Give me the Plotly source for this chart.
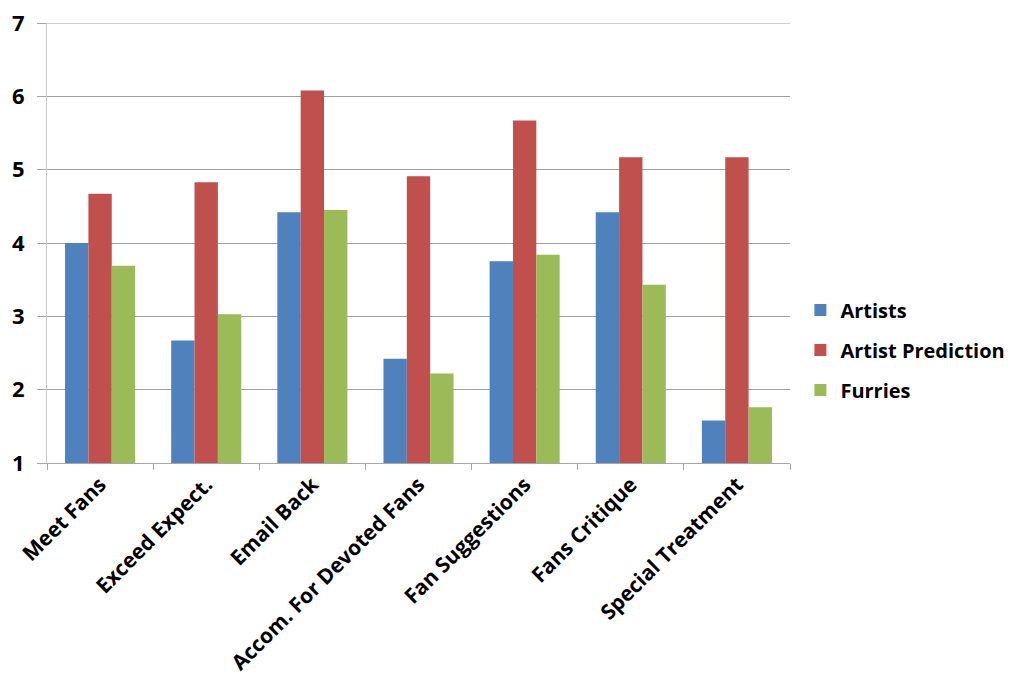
import plotly.graph_objects as go

categories = ["Meet Fans", "Exceed Expect.", "Email Back", "Accom. For Devoted Fans",
              "Fan Suggestions", "Fans Critique", "Special Treatment"]
artists = [4.00, 2.67, 4.42, 2.42, 3.75, 4.42, 1.58]
artist_prediction = [4.67, 4.83, 6.08, 4.91, 5.67, 5.17, 5.17]
furries = [3.69, 3.03, 4.45, 2.22, 3.84, 3.43, 1.76]
y_ticks = [1, 2, 3, 4, 5, 6, 7]

series = [
    ("Artists", artists, "#4F81BD"),
    ("Artist Prediction", artist_prediction, "#C0504D"),
    ("Furries", furries, "#9BBB59"),
]

fig = go.Figure()
for name, vals, color in series:
    fig.add_trace(go.Bar(x=categories, y=vals, name=name, marker_color=color,
                         marker_line_width=0, legendgroup=name))

font_family = "Open Sans, DejaVu Sans, sans-serif"
fig.update_layout(
    width=1024, height=700,
    margin=dict(l=39, r=242, t=15, b=245),
    paper_bgcolor="white", plot_bgcolor="white",
    barmode="group", bargap=0.34, bargroupgap=0,
    font=dict(family=font_family, color="black"),
    legend=dict(x=1.014, y=0.257, xanchor="left", yanchor="middle",
                font=dict(size=20, family=font_family, weight="bold"),
                tracegroupgap=11, itemwidth=30),
    showlegend=True,
)
# top gridline at the maximum of the y range
fig.add_shape(type="line", xref="paper", yref="y", x0=0, x1=1,
              y0=y_ticks[-1], y1=y_ticks[-1],
              line=dict(color="#a0a0a0", width=1), layer="below")
fig.update_xaxes(
    tickangle=-45, tickson="boundaries", ticks="outside", ticklen=6,
    tickcolor="#a6a6a6", showline=True, linecolor="#a6a6a6", linewidth=1,
    showgrid=False, automargin=False,
    tickfont=dict(size=21, family=font_family, weight="bold"),
)
fig.update_yaxes(
    range=[1, 7], tickvals=y_ticks, ticks="outside", ticklen=9, tickcolor="#a6a6a6",
    showline=True, linecolor="#c8c8c8", linewidth=1, automargin=False,
    showgrid=True, gridcolor="#a0a0a0", gridwidth=1, zeroline=False,
    ticklabelstandoff=8, ticklabeloverflow="allow",
    tickfont=dict(size=22, family=font_family, weight="bold"),
)

fig.write_html("out.html")
